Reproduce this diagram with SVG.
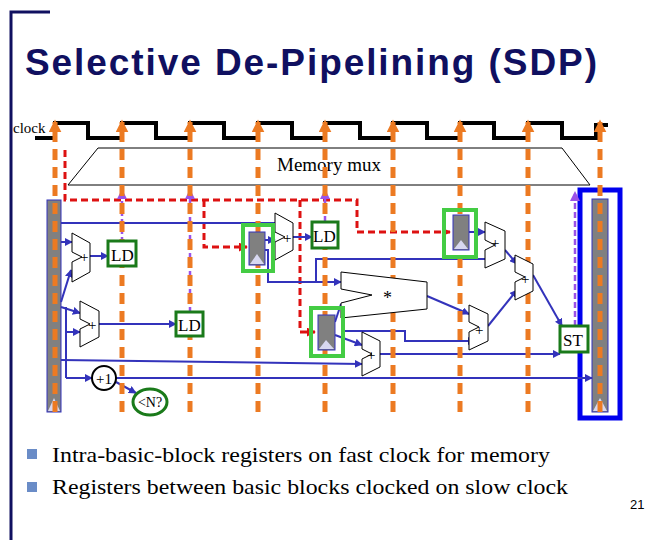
<svg xmlns="http://www.w3.org/2000/svg" width="670" height="540" viewBox="0 0 670 540">
<defs>
<marker id="oa" viewBox="0 0 10 10" refX="8" refY="5" markerWidth="2.6" markerHeight="2.6" orient="auto"><path d="M0,0 L10,5 L0,10 z" fill="#ec7a22"/></marker>
<marker id="pa" viewBox="0 0 10 10" refX="9" refY="5" markerWidth="4" markerHeight="4" orient="auto"><path d="M0,0 L10,5 L0,10 z" fill="#9a52e8"/></marker>
<marker id="ra" viewBox="0 0 10 10" refX="9" refY="5" markerWidth="3" markerHeight="3" orient="auto"><path d="M0,0 L10,5 L0,10 z" fill="#dd1111"/></marker>
<marker id="ba" viewBox="0 0 10 10" refX="9" refY="5" markerWidth="4" markerHeight="4" orient="auto"><path d="M0,0 L10,5 L0,10 z" fill="#3333bb"/></marker>
</defs>
<style>
.t{font-family:"Liberation Serif",serif;fill:#000}
.o{stroke:#ec7a22;stroke-width:5;stroke-dasharray:11 7;fill:none}
.p{stroke:#9a52e8;stroke-width:2.5;stroke-dasharray:6 3;fill:none;marker-end:url(#pa)}
.r{stroke:#dd1111;stroke-width:3;stroke-dasharray:7 4;fill:none}
.b{stroke:#3333bb;stroke-width:2;fill:none}
.ba{stroke:#3333bb;stroke-width:2;fill:none;marker-end:url(#ba)}
.alu{fill:#fff;stroke:#000;stroke-width:1}
.reg{fill:#808080;stroke:#3333bb;stroke-width:1}
.tri{fill:#d8d8f0}
.ld{fill:#fff;stroke:#1a7a1a;stroke-width:3}
.hl{fill:none;stroke:#44cc44;stroke-width:4}
</style>
<path d="M11,540 V12 H50" stroke="#101060" stroke-width="3" fill="none"/>
<text x="25" y="75" font-family="Liberation Sans,sans-serif" font-weight="bold" font-size="37" textLength="572" lengthAdjust="spacing" fill="#101060">Selective De-Pipelining (SDP)</text>
<text class="t" x="13" y="133" font-size="15">clock</text>
<path d="M35,138 H55 V123 H88 V138 H122 V123 H156 V138 H190 V123 H224 V138 H258 V123 H292 V138 H325 V123 H360 V138 H393 V123 H427 V138 H460 V123 H494 V138 H528 V123 H562 V138 H596 V125 H608" stroke="#000" stroke-width="4" fill="none"/>
<polygon points="98,148 562,148 590,185 68,185" fill="#fff" stroke="#000" stroke-width="1"/>
<text class="t" x="329" y="171" font-size="19" text-anchor="middle">Memory mux</text>
<g id="bigregs">
<rect class="reg" x="47" y="200" width="14" height="212"/><polygon class="tri" points="48,411 54,398 60,411"/>
<rect x="580" y="190" width="40" height="228" fill="none" stroke="#0000ee" stroke-width="5"/>
<rect class="reg" x="592" y="199" width="16" height="213"/><polygon class="tri" points="593,411 600,398 607,411"/>
</g>
<g id="connectors">
<path class="r" d="M65,150 V200 H357 V232 H450" marker-end="url(#ra)"/>
<path class="r" d="M204,200 V247 H247" marker-end="url(#ra)"/>
<path class="r" d="M300,200 V332 H315" marker-end="url(#ra)"/>
<path class="b" d="M61,223 H275"/>
<path class="ba" d="M61,242 H72"/>
<path class="ba" d="M61,302 L71,270"/>
<path class="ba" d="M90,256 H108"/>
<path class="ba" d="M61,307 L80,313"/>
<path class="b" d="M66,307 V378"/>
<path class="ba" d="M66,332 H80"/>
<path class="ba" d="M99,324 H176"/>
<path class="ba" d="M61,360 L362,364"/>
<path class="ba" d="M66,378 H92"/>
<path class="ba" d="M116,378 H592"/>
<path class="ba" d="M116,382 L136,393"/>
<path class="ba" d="M265,240 H275"/>
<path class="ba" d="M265,250 H268 V282 H341"/>
<path class="ba" d="M293,237 H312"/>
<path class="b" d="M316,282 V259 H485"/>
<path class="ba" d="M469,232 H485"/>
<path class="ba" d="M505,250 L517,264"/>
<path class="ba" d="M427,296 L469,314"/>
<path class="b" d="M335,322 L341,304"/>
<path class="ba" d="M335,335 L362,345"/>
<path class="ba" d="M343,331 H405 V341 H475"/>
<path class="ba" d="M380,354 H560"/>
<path class="ba" d="M488,326 L517,290"/>
<path class="ba" d="M533,275 L562,326"/>
<path class="p" d="M122,252 V190"/>
<path class="p" d="M190,313 V190"/>
<path class="p" d="M325,222 V190"/>
<path class="p" d="M575,326 V192"/>
<g marker-end="url(#oa)">
<path class="o" d="M55,412 V122"/><path class="o" d="M122,412 V122"/><path class="o" d="M190,412 V122"/>
<path class="o" d="M258,412 V122"/><path class="o" d="M325,412 V122"/><path class="o" d="M393,412 V122"/>
<path class="o" d="M460,412 V122"/><path class="o" d="M528,412 V122"/><path class="o" d="M600,412 V122"/>
</g>
</g>
<g id="alus" font-family="Liberation Serif,serif" font-size="15">
<polygon class="alu" points="72,233 90,243 90,272 72,282 72,262 82,257 72,252"/><text x="80" y="262">+</text>
<polygon class="alu" points="80,301 99,311 99,337 80,347 80,329 90,324 80,319"/><text x="88" y="330">+</text>
<polygon class="alu" points="275,213 293,223 293,250 275,260 275,242 285,237 275,232"/><text x="283" y="243">+</text>
<polygon class="alu" points="485,222 505,231 505,259 485,268 485,250 495,245 485,240"/><text x="491" y="248">+</text>
<polygon class="alu" points="515,255 533,264 533,291 515,300 515,282 525,277 515,272"/><text x="521" y="284">+</text>
<polygon class="alu" points="469,305 488,314 488,341 469,350 469,332 479,327 469,322"/><text x="475" y="335">+</text>
<polygon class="alu" points="362,332 380,341 380,367 362,376 362,359 372,354 362,349"/><text x="367" y="360">+</text>
<polygon class="alu" points="341,272 427,282 427,309 341,318 341,303 372,295 341,289"/><text x="383" y="304" font-size="18">*</text>
</g>
<g id="regs">
<rect class="reg" x="249" y="232" width="16" height="33"/><polygon class="tri" points="250,264 257,254 264,264"/><rect class="hl" x="243" y="225" width="30" height="46"/>
<rect class="reg" x="453" y="215" width="16" height="35"/><polygon class="tri" points="454,249 461,240 468,249"/><rect class="hl" x="444" y="210" width="32" height="47"/>
<rect class="reg" x="318" y="315" width="17" height="35"/><polygon class="tri" points="319,349 326,340 334,349"/><rect class="hl" x="311" y="308" width="32" height="48"/>
</g>
<g id="ld" font-family="Liberation Serif,serif" font-size="17">
<rect class="ld" x="108" y="241" width="28" height="25"/><text x="111" y="261">LD</text>
<rect class="ld" x="176" y="312" width="27" height="24"/><text x="178" y="331">LD</text>
<rect class="ld" x="312" y="222" width="26" height="26"/><text x="313" y="242">LD</text>
<rect class="ld" x="560" y="326" width="28" height="26"/><text x="563" y="346">ST</text>
</g>
<g id="counter" font-family="Liberation Serif,serif">
<ellipse cx="104" cy="378" rx="12" ry="12" fill="#fff" stroke="#000" stroke-width="2"/><text x="104" y="384" font-size="15" text-anchor="middle">+1</text>
<ellipse cx="150" cy="402" rx="17" ry="13" fill="#fff" stroke="#1a7a1a" stroke-width="3"/><text x="150" y="407" font-size="14" text-anchor="middle">&lt;N?</text>
</g>
<rect x="27" y="449" width="10" height="10" fill="#6a8cc7"/>
<rect x="27" y="482" width="10" height="10" fill="#6a8cc7"/>
<text class="t" x="52" y="462" font-size="22" textLength="498" lengthAdjust="spacingAndGlyphs">Intra-basic-block registers on fast clock for memory</text>
<text class="t" x="52" y="494" font-size="22" textLength="516" lengthAdjust="spacingAndGlyphs">Registers between basic blocks clocked on slow clock</text>
<text x="630" y="509" font-family="Liberation Sans,sans-serif" font-size="13">21</text>
</svg>
